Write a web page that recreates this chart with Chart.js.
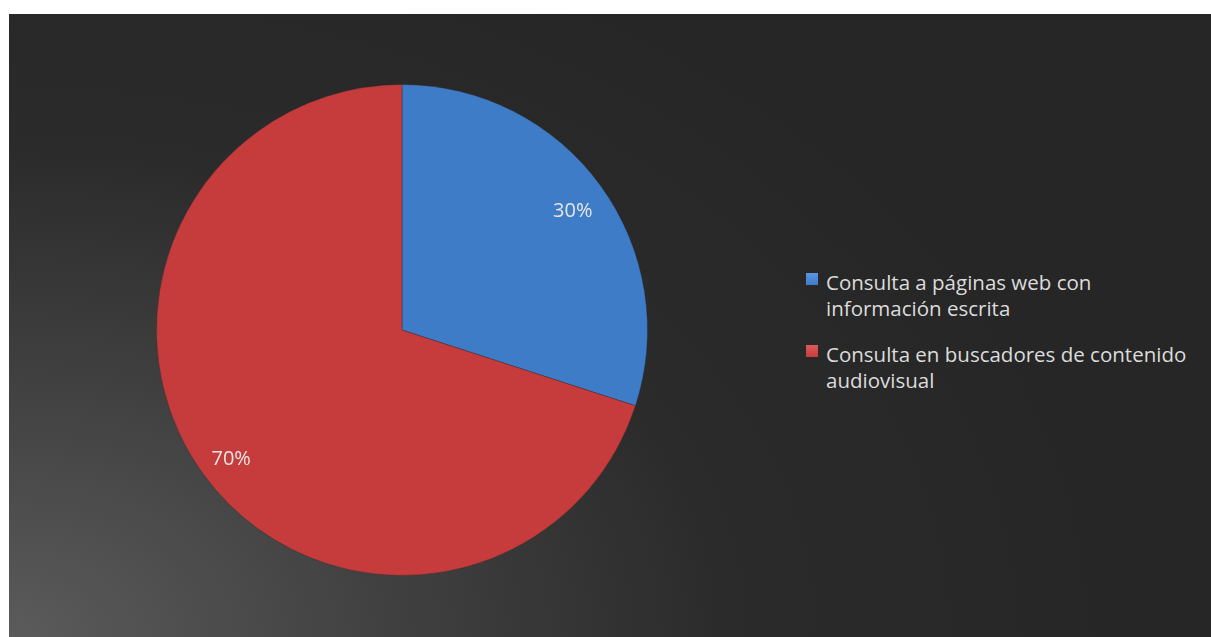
<!DOCTYPE html>
<html>
<head>
<meta charset="utf-8">
<script src="https://cdn.jsdelivr.net/npm/chart.js@4.4.0/dist/chart.umd.min.js"></script>
<style>
  html, body { margin: 0; padding: 0; background: #fff; }
  body { width: 1211px; height: 637px; position: relative; overflow: hidden; }
  #panel {
    position: absolute; left: 9px; top: 14px; width: 1202px; height: 623px;
    background: radial-gradient(ellipse 1100px 750px at 0% 100%, #5b5b5b 0%, #404040 35%, #2b2b2b 65%, #262626 100%);
  }
  #chartBox { position: absolute; left: 0; top: 0; width: 786px; height: 623px; }
  #legend {
    position: absolute; left: 797px; top: 255px; width: 395px;
    font-family: "Open Sans", "Noto Sans", sans-serif; font-size: 20.5px; color: #dcdcdc;
  }
  .item { position: relative; padding-left: 20px; line-height: 26px; margin-bottom: 20px; }
  .swatch { position: absolute; left: 0; top: 4px; width: 12px; height: 12px; }
</style>
</head>
<body>
<div id="panel">
  <div id="chartBox"><canvas id="pie"></canvas></div>
  <div id="legend"></div>
</div>
<script>
// chart values
const categories = ['Consulta a páginas web con información escrita', 'Consulta en buscadores de contenido audiovisual'];
const shares = [30, 70];
const sliceColors = ['#3f7cc8', '#c63c3c'];
const edgeColors = ['#5a96de', '#de5a5a'];

// bevel-ish look: radial gradient, lighter near the rim
function sliceFill(ctx) {
  const i = ctx.dataIndex;
  const arc = ctx.element;
  if (!arc || !arc.outerRadius) return sliceColors[i];
  const c = ctx.chart.ctx;
  const g = c.createRadialGradient(arc.x, arc.y, 0, arc.x, arc.y, arc.outerRadius);
  g.addColorStop(0, sliceColors[i]);
  g.addColorStop(0.93, sliceColors[i]);
  g.addColorStop(0.965, edgeColors[i]);
  g.addColorStop(1, sliceColors[i]);
  return g;
}

const percentLabels = {
  id: 'percentLabels',
  afterDatasetsDraw(chart) {
    const c = chart.ctx;
    const meta = chart.getDatasetMeta(0);
    const total = shares.reduce((a, b) => a + b, 0);
    c.save();
    c.font = '20px "Open Sans", "Noto Sans", sans-serif';
    c.fillStyle = '#e6e6e6';
    c.textAlign = 'center';
    c.textBaseline = 'middle';
    meta.data.forEach((arc, i) => {
      const mid = (arc.startAngle + arc.endAngle) / 2;
      const r = arc.outerRadius * 0.86;
      const x = arc.x + Math.cos(mid) * r;
      const y = arc.y + Math.sin(mid) * r + 5;
      c.fillText(Math.round(shares[i] / total * 100) + '%', x, y);
    });
    c.restore();
  }
};

new Chart(document.getElementById('pie'), {
  type: 'pie',
  data: {
    labels: categories,
    datasets: [{
      data: shares,
      backgroundColor: sliceFill,
      borderColor: 'rgba(40,40,40,0.35)',
      borderWidth: 1
    }]
  },
  options: {
    responsive: true,
    maintainAspectRatio: false,
    animation: false,
    layout: { padding: { top: 70, bottom: 61 } },
    plugins: { legend: { display: false }, tooltip: { enabled: false } }
  },
  plugins: [percentLabels]
});

// legend built from the same arrays
const legend = document.getElementById('legend');
categories.forEach((name, i) => {
  const item = document.createElement('div');
  item.className = 'item';
  const sw = document.createElement('span');
  sw.className = 'swatch';
  sw.style.background = 'linear-gradient(' + edgeColors[i] + ', ' + sliceColors[i] + ')';
  item.appendChild(sw);
  item.appendChild(document.createTextNode(name));
  legend.appendChild(item);
});
</script>
</body>
</html>
